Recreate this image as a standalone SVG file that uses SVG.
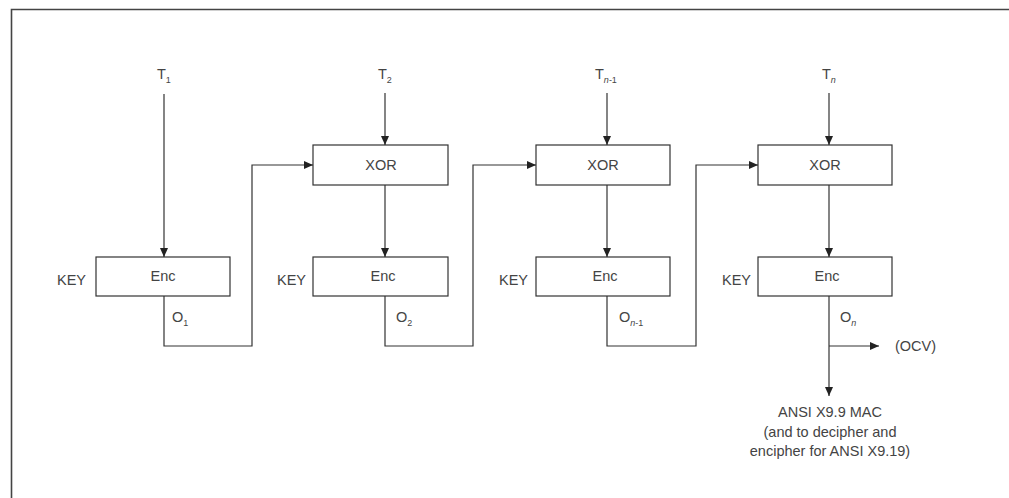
<svg xmlns="http://www.w3.org/2000/svg" width="1009" height="498" viewBox="0 0 1009 498">
<defs>
<marker id="ah" markerWidth="10" markerHeight="8" refX="9" refY="4" orient="auto" markerUnits="userSpaceOnUse">
<path d="M0,0 L9,4 L0,8 Z" fill="#222"/>
</marker>
<style>
.box{fill:#fff;stroke:#333;stroke-width:1.2}
.ln{fill:none;stroke:#333;stroke-width:1.2}
.ar{fill:none;stroke:#333;stroke-width:1.2;marker-end:url(#ah)}
text{font-family:"Liberation Sans",Arial,sans-serif;font-size:14.5px;fill:#444}
.c{text-anchor:middle}
.e{text-anchor:end}
.sub{font-size:9px}
.it{font-style:italic}
</style>
</defs>
<rect width="1009" height="498" fill="#fff"/>
<path d="M11.5,498 V9.5 H1009" fill="none" stroke="#444" stroke-width="1.6"/>

<g id="labels">
<text x="157" y="79">T<tspan class="sub" dy="4">1</tspan></text>
<text x="378" y="79">T<tspan class="sub" dy="4">2</tspan></text>
<text x="595" y="79">T<tspan class="sub" dy="4"><tspan class="it">n</tspan>-1</tspan></text>
<text x="822" y="79">T<tspan class="sub it" dy="4">n</tspan></text>
<text x="172" y="322">O<tspan class="sub" dy="4">1</tspan></text>
<text x="396" y="322">O<tspan class="sub" dy="4">2</tspan></text>
<text x="619" y="322">O<tspan class="sub" dy="4"><tspan class="it">n</tspan>-1</tspan></text>
<text x="840" y="322">O<tspan class="sub it" dy="4">n</tspan></text>
<text x="86" y="285" class="e">KEY</text>
<text x="306" y="285" class="e">KEY</text>
<text x="528" y="285" class="e">KEY</text>
<text x="751" y="285" class="e">KEY</text>
<text x="895" y="351">(OCV)</text>
<text x="830" y="417" class="c">ANSI X9.9 MAC</text>
<text x="830" y="437" class="c">(and to decipher and</text>
<text x="830" y="456" class="c">encipher for ANSI X9.19)</text>
</g>

<g id="enc1"><rect class="box" x="96" y="257" width="134" height="39"/><text x="163" y="281" class="c">Enc</text></g>
<g id="xor2"><rect class="box" x="313" y="145" width="135" height="40"/><text x="381" y="170" class="c">XOR</text></g>
<g id="enc2"><rect class="box" x="313" y="257" width="135" height="39"/><text x="383" y="281" class="c">Enc</text></g>
<g id="xor3"><rect class="box" x="536" y="145" width="134" height="40"/><text x="603" y="170" class="c">XOR</text></g>
<g id="enc3"><rect class="box" x="536" y="257" width="134" height="39"/><text x="605" y="281" class="c">Enc</text></g>
<g id="xor4"><rect class="box" x="758" y="145" width="134" height="40"/><text x="825" y="170" class="c">XOR</text></g>
<g id="enc4"><rect class="box" x="758" y="257" width="134" height="39"/><text x="827" y="281" class="c">Enc</text></g>

<g id="connectors">
<path class="ar" d="M164,94 V257"/>
<path class="ar" d="M385,93 V145"/>
<path class="ar" d="M607,93 V145"/>
<path class="ar" d="M829,93 V145"/>
<path class="ar" d="M385,185 V257"/>
<path class="ar" d="M607,185 V257"/>
<path class="ar" d="M829,185 V257"/>
<path class="ar" d="M164,296 V346 H252 V165 H313"/>
<path class="ar" d="M385,296 V346 H473 V165 H536"/>
<path class="ar" d="M607,296 V346 H696 V165 H758"/>
<path class="ar" d="M829,296 V396"/>
<path class="ar" d="M829,346 H879"/>
</g>
</svg>
